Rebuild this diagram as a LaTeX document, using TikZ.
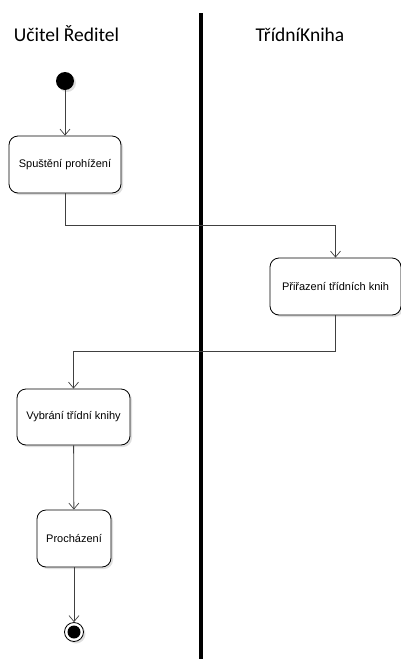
\documentclass[tikz,border=0pt]{standalone}
\usepackage{fontspec}
\setmainfont{Liberation Sans}
\newfontfamily\lanefont{Carlito}
\usetikzlibrary{arrows.meta,positioning,shadows}
\definecolor{umlline}{HTML}{404040}

\begin{document}
\begin{tikzpicture}[x=1pt,y=-1pt,
  act/.style={draw=black,line width=0.8pt,rounded corners=9pt,fill=white,align=center,
    font=\fontsize{11}{13}\selectfont,inner sep=2pt,minimum height=57pt,
    drop shadow={shadow xshift=2pt,shadow yshift=-2pt,fill=black!25}},
  lane/.style={font=\lanefont\fontsize{19.5}{22}\selectfont,anchor=base,inner sep=0pt},
  arr/.style={-{Straight Barb[length=6pt,width=10pt,line width=0.7pt]},umlline,line width=0.8pt}]
  \useasboundingbox (0,0) rectangle (401,659);
  % swimlanes
  \node[lane] (ucitel) at (66.5,41) {Učitel Ředitel};
  \node[lane] (kniha) at (300,41) {TřídníKniha};
  \draw[line width=4pt] (201,13) -- (201,659);
  % start and activities
  \node[circle,fill=black,minimum size=18pt,inner sep=0pt,
    drop shadow={shadow xshift=2pt,shadow yshift=-2pt,fill=black!25}] (start) at (65,81) {};
  \node[act,minimum width=112pt] (spust) at (65,164.5) {Spuštění prohížení};
  \node[act,minimum width=131pt] (prir) at (335.5,286.5) {Přiřazení třídních knih};
  \node[act,minimum width=113pt,minimum height=56pt] (vyb) at (73.5,417) {Vybrání třídní knihy};
  \node[act,minimum width=74pt] (proch) at (74,538.5) {Procházení};
  \node[circle,draw=black,fill=white,line width=0.8pt,minimum size=19pt,inner sep=0pt,
    drop shadow={shadow xshift=2pt,shadow yshift=-2pt,fill=black!25}] (end) at (74,632) {};
  \fill (end) circle (6.5pt);
  % flows
  \draw[arr] (start) -- (spust);
  \draw[arr] (spust.south) -- ++(0,32) -| (prir.north);
  \draw[arr] (prir.south) -- ++(0,36) -| (vyb.north);
  \draw[arr] (vyb) -- (proch);
  \draw[arr] (proch) -- (end);
\end{tikzpicture}
\end{document}
